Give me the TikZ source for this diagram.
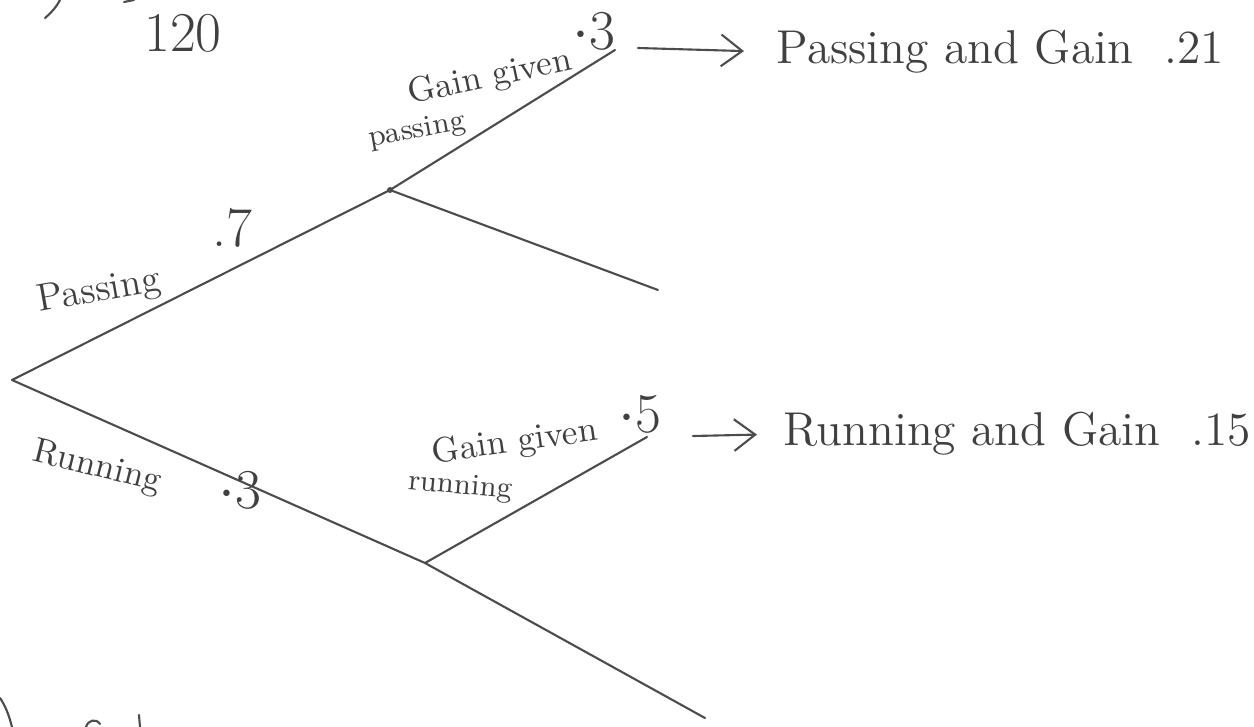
\documentclass[tikz,border=0pt]{standalone}
\usetikzlibrary{arrows.meta}
\begin{document}
\begin{tikzpicture}[x=0.01cm,y=-0.01cm,
  ink/.style={draw=black!70,line width=0.6pt,line cap=round},
  lbl/.style={text=black!75,inner sep=0pt,font=\fontsize{10}{12}\selectfont},
  small/.style={text=black!75,inner sep=0pt,font=\fontsize{8.5}{10}\selectfont},
  num/.style={text=black!75,inner sep=0pt,font=\fontsize{16}{19}\selectfont},
  big/.style={text=black!75,inner sep=0pt,font=\fontsize{13.5}{16}\selectfont},
  arr/.style={ink,-{Straight Barb[length=6pt,width=9pt]}}]
\useasboundingbox (0,0) rectangle (1254,727);

% tree points
\coordinate (root) at (12,380);
\coordinate (pass) at (390,190);
\coordinate (run) at (425,563);
\coordinate (pg) at (615,50);
\coordinate (pn) at (658,290);
\coordinate (rg) at (647,437);
\coordinate (rn) at (705,718);

% branches
\draw[ink] (root) -- (pass);
\draw[ink] (root) -- (run);
\draw[ink] (pass) -- (pg);
\draw[ink] (pass) -- (pn);
\draw[ink] (run) -- (rg);
\draw[ink] (run) -- (rn);
\fill[black!70] (pass) circle (3);

% first-stage labels
\node[lbl,font=\fontsize{11}{13}\selectfont,rotate=10] (lp) at (99,292) {Passing};
\node[num] (p7) at (232,228) {.7};
\node[lbl,rotate=-14] (lr) at (97,468) {Running};
\node[num] (r3) at (240,490) {$\cdot$3};

% second-stage labels
\node[lbl,rotate=12] (gp) at (490,78) {Gain given};
\node[small,rotate=10] (gpp) at (417,131) {passing};
\node[num] (g3) at (594,31) {$\cdot$3};
\node[lbl,rotate=8] (gr) at (515,443) {Gain given};
\node[small,rotate=-5] (grr) at (460,487) {running};
\node[num] (g5) at (640,414) {$\cdot$5};

% outcomes
\node[big,anchor=west] (out1) at (776,52) {Passing and Gain \ .21};
\node[big,anchor=west] (out2) at (783,434) {Running and Gain \ .15};
\coordinate (a1) at (638,48);
\coordinate (a2) at (693,436);
\draw[arr,shorten >=0.32cm] (a1) -- (out1.west);
\draw[arr,shorten >=0.26cm] (a2) -- (out2.west);

% number at the top
\node[num] (n120) at (183,33) {120};

% fragments of writing along the edges
\draw[ink] (45,18) .. controls (52,12) and (57,6) .. (60,0);
\draw[ink] (124,2) -- (134,0);
\draw[ink] (0,698) .. controls (5,705) and (9,715) .. (12,727);
\draw[ink] (86,727) .. controls (88,720) and (96,718) .. (100,724);
\draw[ink] (139,715) -- (140,727);
\end{tikzpicture}
\end{document}
